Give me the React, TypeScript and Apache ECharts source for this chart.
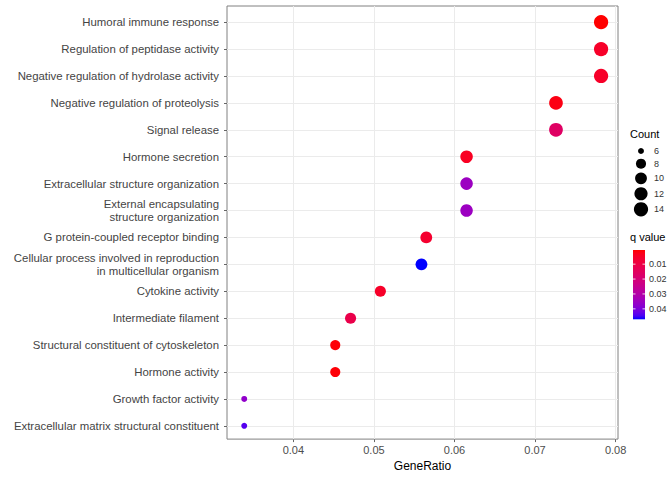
import React, { useEffect, useRef } from 'react';
import * as echarts from 'echarts';

// GO enrichment terms, top to bottom
const categories = [
  'Humoral immune response',
  'Regulation of peptidase activity',
  'Negative regulation of hydrolase activity',
  'Negative regulation of proteolysis',
  'Signal release',
  'Hormone secretion',
  'Extracellular structure organization',
  'External encapsulating\nstructure organization',
  'G protein-coupled receptor binding',
  'Cellular process involved in reproduction\nin multicellular organism',
  'Cytokine activity',
  'Intermediate filament',
  'Structural constituent of cytoskeleton',
  'Hormone activity',
  'Growth factor activity',
  'Extracellular matrix structural constituent',
];
const geneRatio = [
  0.0782, 0.0782, 0.0782, 0.0726, 0.0726, 0.0615, 0.0615, 0.0615,
  0.0565, 0.0559, 0.0508, 0.0471, 0.0452, 0.0452, 0.0339, 0.0339,
];
const counts = [14, 14, 14, 13, 13, 11, 11, 11, 10, 10, 9, 9, 8, 8, 6, 6];
const qValues = [
  0.0005, 0.005, 0.005, 0.002, 0.016, 0.004, 0.035, 0.035,
  0.006, 0.047, 0.005, 0.011, 0.001, 0.001, 0.037, 0.044,
];

const xTicks = [0.04, 0.05, 0.06, 0.07, 0.08];
const xMinorTicks = [0.035, 0.045, 0.055, 0.065, 0.075];
const countBreaks = [6, 8, 10, 12, 14];
const qBreaks = [0.01, 0.02, 0.03, 0.04];

// ---- layout ----
const W = 669;
const H = 477;
const FONT = '"Liberation Sans", Arial, sans-serif';
const PANEL = { left: 227, top: 6, right: 618, bottom: 442 };
const X_MIN = 0.03176;
const X_MAX = 0.0803;
const ROW_EXPAND = 0.6;

// ---- colour scale: red -> blue interpolated in CIE Lab ----
const toLin = (c: number) => {
  const v = c / 255;
  return v <= 0.04045 ? v / 12.92 : Math.pow((v + 0.055) / 1.055, 2.4);
};
const fromLin = (c: number) => {
  const v = c <= 0.0031308 ? 12.92 * c : 1.055 * Math.pow(c, 1 / 2.4) - 0.055;
  return Math.round(Math.min(1, Math.max(0, v)) * 255);
};
const XN = 0.95047, YN = 1.0, ZN = 1.08883;
const EPS = 216 / 24389, KAPPA = 24389 / 27;
const fLab = (t: number) => (t > EPS ? Math.cbrt(t) : (KAPPA * t + 16) / 116);
const fLabInv = (t: number) => {
  const t3 = t * t * t;
  return t3 > EPS ? t3 : (116 * t - 16) / KAPPA;
};
function rgbToLab(rgb: number[]) {
  const [r, g, b] = rgb.map(toLin);
  const X = 0.4124564 * r + 0.3575761 * g + 0.1804375 * b;
  const Y = 0.2126729 * r + 0.7151522 * g + 0.072175 * b;
  const Z = 0.0193339 * r + 0.119192 * g + 0.9503041 * b;
  const fx = fLab(X / XN), fy = fLab(Y / YN), fz = fLab(Z / ZN);
  return [116 * fy - 16, 500 * (fx - fy), 200 * (fy - fz)];
}
function labToHex(lab: number[]) {
  const [L, a, bb] = lab;
  const fy = (L + 16) / 116;
  const fx = fy + a / 500;
  const fz = fy - bb / 200;
  const X = XN * fLabInv(fx), Y = YN * fLabInv(fy), Z = ZN * fLabInv(fz);
  const r = 3.2404542 * X - 1.5371385 * Y - 0.4985314 * Z;
  const g = -0.969266 * X + 1.8760108 * Y + 0.041556 * Z;
  const b = 0.0556434 * X - 0.2040259 * Y + 1.0572252 * Z;
  const hex = (n: number) => fromLin(n).toString(16).padStart(2, '0');
  return '#' + hex(r) + hex(g) + hex(b);
}
const LAB_LOW = rgbToLab([255, 0, 0]);
const LAB_HIGH = rgbToLab([0, 0, 255]);
const qMin = Math.min(...qValues);
const qMax = Math.max(...qValues);
const colorAt = (t: number) =>
  labToHex(LAB_LOW.map((v, i) => v + (LAB_HIGH[i] - v) * Math.max(0, Math.min(1, t))));
const qColor = (q: number) => colorAt((q - qMin) / (qMax - qMin));

// ---- size scale (area-proportional, like scale_size) ----
const cMin = Math.min(...counts);
const cMax = Math.max(...counts);
const dotSize = (c: number) => 4.3 + 1.66 * (1 + 5 * Math.sqrt((c - cMin) / (cMax - cMin)));

export default function App() {
  const ref = useRef<HTMLDivElement>(null);

  useEffect(() => {
    if (!ref.current) return;
    const chart = echarts.init(ref.current, undefined, { renderer: 'svg' });

    const panelW = PANEL.right - PANEL.left;
    const panelH = PANEL.bottom - PANEL.top;
    const unit = panelH / (categories.length - 1 + 2 * ROW_EXPAND);
    const rowsTop = PANEL.top + ROW_EXPAND * unit;
    const rowsH = (categories.length - 1) * unit;

    // legend geometry
    const legX = 630;
    const countTitleY = 135;
    const keyX = 641;
    const keyY0 = 151;
    const keyOffsets = [0, 12.7, 27.3, 42.7, 58.3];
    const qTitleY = 238;
    const bar = { x: 633, y: 250, w: 12, h: 69.3 };
    const qToBarY = (q: number) => bar.y + ((q - qMin) / (qMax - qMin)) * bar.h;

    const gradStops = Array.from({ length: 21 }, (_, i) => ({
      offset: i / 20,
      color: colorAt(i / 20),
    }));

    const legendGraphics: any[] = [
      {
        type: 'text',
        left: legX,
        top: countTitleY - 7,
        style: { text: 'Count', fontSize: 11, fontFamily: FONT, fill: '#000' },
      },
      ...countBreaks.map((c, i) => ({
        type: 'circle',
        shape: { cx: keyX, cy: keyY0 + keyOffsets[i], r: dotSize(c) / 2 },
        style: { fill: '#000' },
      })),
      ...countBreaks.map((c, i) => ({
        type: 'text',
        x: 654,
        y: keyY0 + keyOffsets[i],
        style: {
          text: String(c),
          fontSize: 9,
          fontFamily: FONT,
          fill: '#333',
          align: 'left',
          verticalAlign: 'middle',
        },
      })),
      {
        type: 'text',
        left: legX,
        top: qTitleY - 7,
        style: { text: 'q value', fontSize: 11, fontFamily: FONT, fill: '#000' },
      },
      {
        type: 'rect',
        shape: { x: bar.x, y: bar.y, width: bar.w, height: bar.h },
        style: { fill: new echarts.graphic.LinearGradient(0, 0, 0, 1, gradStops) },
      },
      ...qBreaks.flatMap((q) => [
        {
          type: 'line',
          shape: { x1: bar.x, y1: qToBarY(q), x2: bar.x + 2.5, y2: qToBarY(q) },
          style: { stroke: '#fff', lineWidth: 0.8 },
        },
        {
          type: 'line',
          shape: { x1: bar.x + bar.w - 2.5, y1: qToBarY(q), x2: bar.x + bar.w, y2: qToBarY(q) },
          style: { stroke: '#fff', lineWidth: 0.8 },
        },
        {
          type: 'text',
          x: 649,
          y: qToBarY(q),
          style: {
            text: q.toFixed(2),
            fontSize: 9,
            fontFamily: FONT,
            fill: '#333',
            align: 'left',
            verticalAlign: 'middle',
          },
        },
      ]),
    ];

    chart.setOption({
      animation: false,
      textStyle: { fontFamily: FONT },
      grid: [
        {
          left: PANEL.left,
          top: PANEL.top,
          width: panelW,
          height: panelH,
          show: true,
          backgroundColor: '#fff',
          borderColor: '#808080',
          borderWidth: 1,
        },
        { left: PANEL.left, top: rowsTop, width: panelW, height: rowsH },
      ],
      xAxis: [
        {
          gridIndex: 0,
          type: 'value',
          min: X_MIN,
          max: X_MAX,
          axisLine: { show: false },
          splitLine: { show: false },
          axisTick: {
            show: true,
            customValues: xTicks,
            length: 3,
            lineStyle: { color: '#666' },
          },
          axisLabel: {
            customValues: xTicks,
            color: '#4d4d4d',
            fontSize: 11,
            margin: 5,
            formatter: (v: number) => v.toFixed(2),
          },
          name: 'GeneRatio',
          nameLocation: 'middle',
          nameGap: 16,
          nameTextStyle: { color: '#000', fontSize: 12 },
        },
        { gridIndex: 1, type: 'value', min: X_MIN, max: X_MAX, show: false },
      ],
      yAxis: [
        { gridIndex: 0, type: 'value', min: 0, max: 1, show: false },
        {
          gridIndex: 1,
          type: 'category',
          data: categories,
          inverse: true,
          boundaryGap: false,
          axisLine: { show: false },
          axisTick: { show: true, length: 3, lineStyle: { color: '#666' } },
          axisLabel: {
            color: '#444',
            fontSize: 11.4,
            margin: 8,
            lineHeight: 13,
            align: 'right',
            interval: 0,
          },
          splitLine: { show: true, lineStyle: { color: '#ebebeb', width: 1 } },
        },
      ],
      series: [
        {
          type: 'scatter',
          xAxisIndex: 0,
          yAxisIndex: 0,
          data: [],
          silent: true,
          markLine: {
            silent: true,
            symbol: ['none', 'none'],
            label: { show: false },
            data: [
              ...xMinorTicks.map((v) => ({
                xAxis: v,
                lineStyle: { color: '#f3f3f3', width: 1, type: 'solid' },
              })),
              ...xTicks.map((v) => ({
                xAxis: v,
                lineStyle: { color: '#ebebeb', width: 1, type: 'solid' },
              })),
            ],
          },
        },
        {
          type: 'scatter',
          xAxisIndex: 1,
          yAxisIndex: 1,
          z: 5,
          data: categories.map((_, i) => ({
            value: [geneRatio[i], i, counts[i], qValues[i]],
            itemStyle: { color: qColor(qValues[i]), opacity: 1 },
          })),
          symbolSize: (v: number[]) => dotSize(v[2]),
        },
      ],
      graphic: legendGraphics,
    });

    return () => chart.dispose();
  }, []);

  return (
    <div
      ref={ref}
      style={{ position: 'fixed', left: 0, top: 0, width: W, height: H, background: '#fff' }}
    />
  );
}
